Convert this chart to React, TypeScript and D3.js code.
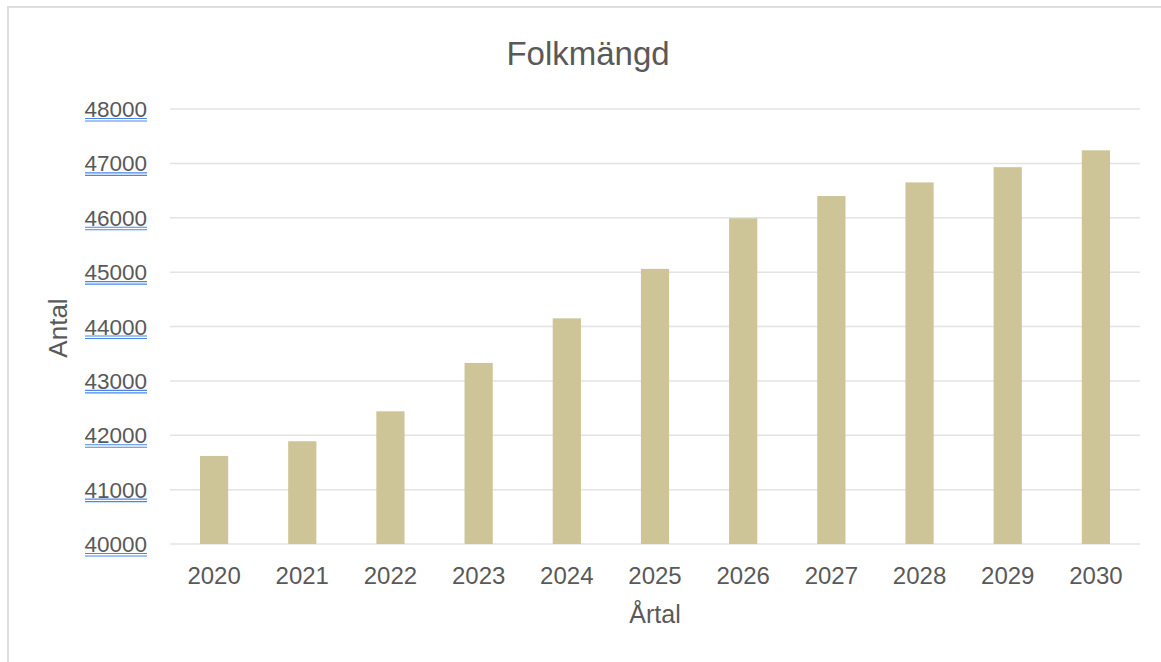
import React from "react";
import * as d3 from "d3";

const years = ["2020", "2021", "2022", "2023", "2024", "2025", "2026", "2027", "2028", "2029", "2030"];
const population = [41620, 41890, 42440, 43330, 44150, 45060, 45990, 46400, 46650, 46930, 47240];
const yTicks = [40000, 41000, 42000, 43000, 44000, 45000, 46000, 47000, 48000];

const W = 1161;
const H = 662;
const left = 170;
const right = 1140;
const top = 109;
const bottom = 544;
const font = "Arial, 'Liberation Sans', sans-serif";
const textColor = "#595959";

export default function App() {
  const x = d3.scaleBand<string>().domain(years).range([left, right]).paddingInner(0.68).paddingOuter(0.34);
  const y = d3.scaleLinear().domain([40000, 48000]).range([bottom, top]);

  return (
    <div style={{ position: "absolute", left: 0, top: 0 }}>
      <svg width={W} height={H} style={{ display: "block", background: "#fff" }}>
        <line x1={7} y1={7} x2={W} y2={7} stroke="#dedede" strokeWidth={2} />
        <line x1={8} y1={6} x2={8} y2={H} stroke="#dedede" strokeWidth={2} />
        <text x={588} y={65} textAnchor="middle" fontFamily={font} fontSize={33} fill={textColor}>
          Folkmängd
        </text>
        {yTicks.map((t) => (
          <g key={t}>
            <line x1={left} x2={right} y1={y(t)} y2={y(t)} stroke="#e3e3e3" strokeWidth={1.5} />
            <text x={147} y={y(t) + 8} textAnchor="end" fontFamily={font} fontSize={22.5} fill={textColor}>
              {t}
            </text>
            <line x1={85} x2={147} y1={y(t) + 9.5} y2={y(t) + 9.5} stroke="#4a86e8" strokeWidth={1.2} />
            <line x1={85} x2={147} y1={y(t) + 12} y2={y(t) + 12} stroke="#4a86e8" strokeWidth={1.2} />
          </g>
        ))}
        {years.map((yr, i) => (
          <rect
            key={yr}
            x={x(yr)}
            y={y(population[i])}
            width={x.bandwidth()}
            height={bottom - y(population[i])}
            fill="#cdc597"
          />
        ))}
        {years.map((yr) => (
          <text
            key={yr}
            x={(x(yr) as number) + x.bandwidth() / 2}
            y={584}
            textAnchor="middle"
            fontFamily={font}
            fontSize={24}
            fill={textColor}
          >
            {yr}
          </text>
        ))}
        <text x={655} y={623} textAnchor="middle" fontFamily={font} fontSize={25} fill={textColor}>
          Årtal
        </text>
        <text
          transform="translate(67,328) rotate(-90)"
          textAnchor="middle"
          fontFamily={font}
          fontSize={26}
          fill={textColor}
        >
          Antal
        </text>
      </svg>
    </div>
  );
}
